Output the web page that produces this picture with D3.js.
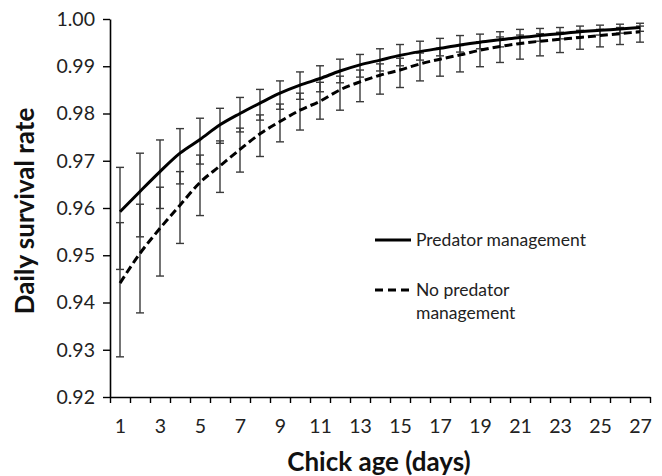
<!DOCTYPE html>
<html>
<head>
<meta charset="utf-8">
<script src="https://cdn.jsdelivr.net/npm/d3@7"></script>
<style>
  html, body { margin: 0; padding: 0; background: #fff; }
  svg { display: block; }
  text { font-family: Lato, "Open Sans", sans-serif; }
</style>
</head>
<body>
<svg id="chart" width="662" height="476"></svg>
<script>
// ---- data ----
const days = d3.range(1, 28);
const xTickLabels = [1, 3, 5, 7, 9, 11, 13, 15, 17, 19, 21, 23, 25, 27];
const yTickValues = [0.92, 0.93, 0.94, 0.95, 0.96, 0.97, 0.98, 0.99, 1.00];

const mgmt = [0.9592, 0.9635, 0.9677, 0.9716, 0.9745, 0.9776, 0.9800, 0.9822, 0.9843, 0.9860,
              0.9874, 0.9890, 0.9903, 0.9913, 0.9923, 0.9931, 0.9938, 0.9945, 0.9951, 0.9956,
              0.9961, 0.9965, 0.9969, 0.9973, 0.9976, 0.9979, 0.9982];
const mgmtLow = [0.9470, 0.9539, 0.9599, 0.9651, 0.9693, 0.9737, 0.9761, 0.9786, 0.9809, 0.9830,
                 0.9846, 0.9865, 0.9877, 0.9890, 0.9901, 0.9913, 0.9922, 0.9930, 0.9937, 0.9941,
                 0.9948, 0.9953, 0.9958, 0.9962, 0.9966, 0.9970, 0.9974];
const mgmtHigh = [0.9686, 0.9716, 0.9744, 0.9768, 0.9790, 0.9811, 0.9834, 0.9851, 0.9869, 0.9888,
                  0.9901, 0.9915, 0.9925, 0.9937, 0.9946, 0.9953, 0.9959, 0.9965, 0.9968, 0.9973,
                  0.9978, 0.9980, 0.9982, 0.9985, 0.9987, 0.9989, 0.9991];

const noMgmt = [0.9441, 0.9504, 0.9557, 0.9606, 0.9654, 0.9689, 0.9724, 0.9757, 0.9783, 0.9807,
                0.9826, 0.9850, 0.9867, 0.9881, 0.9892, 0.9905, 0.9915, 0.9924, 0.9934, 0.9942,
                0.9948, 0.9953, 0.9957, 0.9961, 0.9965, 0.9969, 0.9973];
const noMgmtLow = [0.9285, 0.9378, 0.9456, 0.9525, 0.9584, 0.9633, 0.9676, 0.9709, 0.9740, 0.9765,
                   0.9788, 0.9807, 0.9825, 0.9841, 0.9855, 0.9869, 0.9879, 0.9888, 0.9899, 0.9908,
                   0.9915, 0.9922, 0.9929, 0.9936, 0.9941, 0.9946, 0.9951];
const noMgmtHigh = [0.9569, 0.9608, 0.9644, 0.9677, 0.9712, 0.9742, 0.9769, 0.9797, 0.9820, 0.9843,
                    0.9866, 0.9879, 0.9892, 0.9905, 0.9917, 0.9928, 0.9938, 0.9944, 0.9952, 0.9962,
                    0.9966, 0.9969, 0.9972, 0.9976, 0.9978, 0.9982, 0.9985];

const seriesNames = ["Predator management", "No predator management"];

// ---- layout ----
const svg = d3.select("#chart");
const mLeft = 110, mRight = 650, mTop = 19, mBottom = 397;

const x = d3.scaleLinear().domain([0.5, 27.5]).range([mLeft, mRight]);
const y = d3.scaleLinear().domain([0.92, 1.00]).range([mBottom, mTop]);

const series = [
  { name: seriesNames[0], mid: mgmt, lo: mgmtLow, hi: mgmtHigh, dash: null },
  { name: seriesNames[1], mid: noMgmt, lo: noMgmtLow, hi: noMgmtHigh, dash: "8,4" }
];

// error bars
const capW = 4;
series.forEach(s => {
  const g = svg.append("g").attr("stroke", "#3a3a3a").attr("stroke-width", 1.4).attr("fill", "none");
  days.forEach((d, i) => {
    g.append("line").attr("x1", x(d)).attr("x2", x(d)).attr("y1", y(s.lo[i])).attr("y2", y(s.hi[i]));
    g.append("line").attr("x1", x(d) - capW).attr("x2", x(d) + capW).attr("y1", y(s.lo[i])).attr("y2", y(s.lo[i]));
    g.append("line").attr("x1", x(d) - capW).attr("x2", x(d) + capW).attr("y1", y(s.hi[i])).attr("y2", y(s.hi[i]));
  });
});

// lines
const line = d3.line().x((v, i) => x(days[i])).y(v => y(v)).curve(d3.curveMonotoneX);
series.forEach(s => {
  svg.append("path").datum(s.mid)
    .attr("d", line)
    .attr("fill", "none")
    .attr("stroke", "#000")
    .attr("stroke-width", 3)
    .attr("stroke-dasharray", s.dash);
});

// y axis
const yAxis = svg.append("g").attr("transform", `translate(${mLeft},0)`)
  .call(d3.axisLeft(y).tickValues(yTickValues).tickFormat(d3.format(".2f")).tickSize(7).tickPadding(8).tickSizeOuter(0));
// x axis ticks (category boundaries)
const xBound = d3.range(0.5, 28, 1);
const xAxis = svg.append("g").attr("transform", `translate(0,${mBottom})`)
  .call(d3.axisBottom(x).tickValues(xBound).tickFormat("").tickSize(6).tickSizeOuter(0));
const xLab = svg.append("g").attr("transform", `translate(0,${mBottom})`)
  .call(d3.axisBottom(x).tickValues(xTickLabels).tickFormat(d3.format("d")).tickSize(0).tickPadding(22).tickSizeOuter(0));
xLab.select(".domain").remove();

[yAxis, xAxis].forEach(g => {
  g.select(".domain").attr("stroke", "#000").attr("stroke-width", 1.6);
  g.selectAll(".tick line").attr("stroke", "#000").attr("stroke-width", 1.4);
});
[yAxis, xLab].forEach(g => {
  g.selectAll(".tick text").attr("font-size", 19.5).attr("fill", "#222")
    .style("font-family", "Lato, 'Open Sans', sans-serif");
});

// axis titles
svg.append("text")
  .attr("x", 379).attr("y", 471)
  .attr("text-anchor", "middle")
  .attr("font-size", 26).attr("font-weight", "bold").attr("fill", "#111")
  .text("Chick age (days)");
svg.append("text")
  .attr("transform", `translate(34,211) rotate(-90)`)
  .attr("text-anchor", "middle")
  .attr("font-size", 26).attr("font-weight", "bold").attr("fill", "#111")
  .text("Daily survival rate");

// legend
const lg = svg.append("g");
const fsL = 17.5;
lg.append("line").attr("x1", 375).attr("x2", 411).attr("y1", 240).attr("y2", 240)
  .attr("stroke", "#000").attr("stroke-width", 3);
lg.append("text").attr("x", 416).attr("y", 240).attr("dy", "0.35em")
  .attr("font-size", fsL).attr("fill", "#222").text(seriesNames[0]);
lg.append("line").attr("x1", 375).attr("x2", 410).attr("y1", 290).attr("y2", 290)
  .attr("stroke", "#000").attr("stroke-width", 3).attr("stroke-dasharray", "8,5");
lg.append("text").attr("x", 416).attr("y", 290).attr("dy", "0.35em")
  .attr("font-size", fsL).attr("fill", "#222").text("No predator");
lg.append("text").attr("x", 416).attr("y", 313).attr("dy", "0.35em")
  .attr("font-size", fsL).attr("fill", "#222").text("management");
</script>
</body>
</html>
